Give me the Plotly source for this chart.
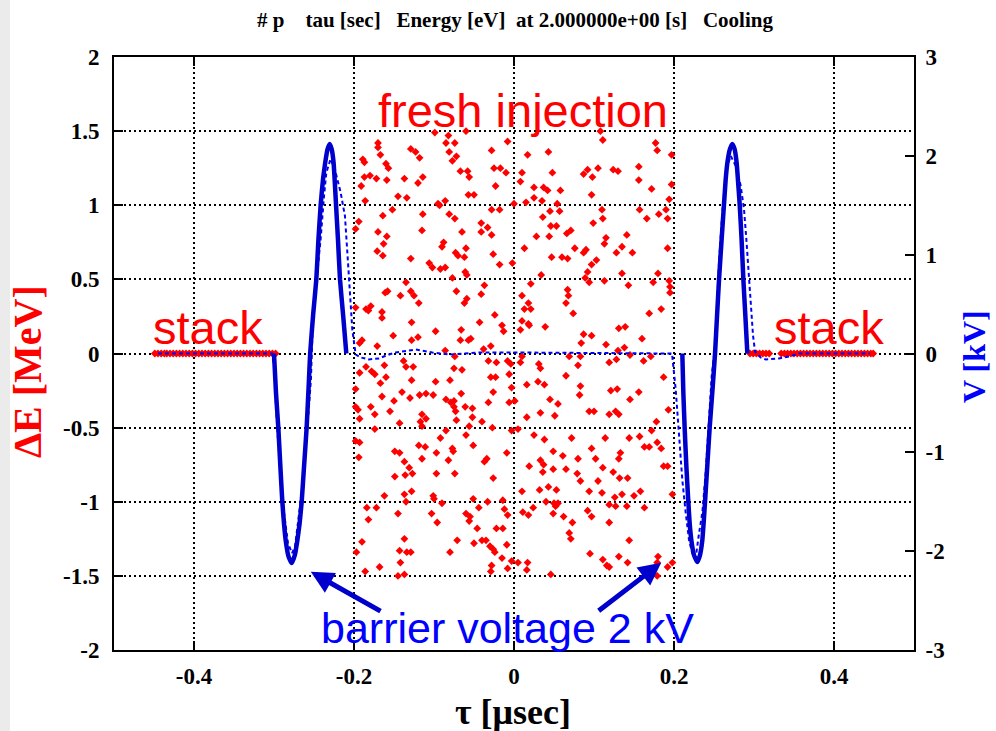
import plotly.graph_objects as go

# ---- fresh injection particles: tau [usec], dE [MeV] ----
inj_tau = [
    -0.099, -0.082, -0.060, -0.170, -0.170, -0.129, -0.123, -0.085, -0.074, -0.167,
    -0.118, -0.081, -0.072, -0.077, -0.028, -0.008, -0.189, -0.187, -0.160, -0.157,
    -0.067, -0.058, -0.056, -0.025, -0.017, -0.010, -0.187, -0.180, -0.172, -0.159,
    -0.137, -0.120, -0.114, -0.191, -0.023, -0.145, -0.134, -0.186, -0.057, -0.050,
    -0.095, -0.093, -0.086, -0.152, -0.164, -0.114, -0.081, -0.074, -0.028, -0.018,
    -0.194, -0.198, -0.170, -0.159, -0.115, -0.065, -0.041, -0.033, -0.041, -0.028,
    -0.163, -0.171, -0.164, -0.088, -0.090, -0.073, -0.070, -0.060, -0.062, -0.129,
    -0.106, -0.102, -0.092, -0.086, -0.026, -0.018, -0.061, -0.059, -0.077, -0.135,
    -0.158, -0.161, -0.129, -0.125, -0.142, -0.119, -0.072, -0.059, -0.062, -0.037,
    -0.041, -0.198, -0.185, -0.179, -0.182, -0.165, -0.165, -0.024, -0.128, -0.098,
    -0.066, -0.043, -0.015, -0.013, -0.190, -0.193, -0.151, -0.128, -0.120, -0.054,
    -0.057, -0.067, -0.029, -0.038, -0.171, -0.086, -0.074,
    0.108, 0.111, 0.017, 0.043, 0.177, 0.179, 0.197, 0.010, 0.008, 0.048,
    0.087, 0.092, 0.098, 0.105, 0.124, 0.130, 0.156, 0.156, 0.172, 0.197,
    0.025, 0.037, 0.042, 0.058, 0.097, 0.025, 0.015, 0.035, 0.000, 0.054,
    0.045, 0.057, 0.110, 0.157, 0.190, 0.181, 0.192, 0.166, 0.036, 0.111,
    0.099, 0.046, 0.053, 0.066, 0.071, 0.028, 0.044, 0.115, 0.141, 0.113,
    0.135, 0.013, 0.076, 0.090, 0.087, 0.128, 0.148, 0.192, 0.047, 0.060,
    0.067, 0.103, 0.097, -0.002, 0.034, 0.092, 0.089, 0.094, 0.113, 0.135,
    0.180, 0.021, 0.067, 0.068, 0.065, 0.010, 0.018, 0.013, 0.021, 0.074,
    0.143, 0.174, 0.194, 0.195, 0.195, 0.169, 0.184, 0.010, 0.018, 0.019,
    0.008, 0.039, 0.131, 0.139, 0.087, 0.097, 0.084, 0.115, 0.138, 0.130,
    0.160, 0.069, 0.083, 0.010, 0.194,
    -0.162, -0.185, -0.138, -0.135, -0.126, -0.075, -0.065, -0.032, -0.022, -0.008,
    -0.004, -0.193, -0.178, -0.174, -0.160, -0.128, -0.098, -0.080, -0.023, -0.006,
    -0.029, -0.167, -0.198, -0.140, -0.165, -0.130, -0.118, -0.110, -0.101, -0.066,
    -0.026, -0.085, -0.079, -0.075, -0.150, -0.179, -0.174, -0.155, -0.198, -0.195,
    -0.193, -0.075, -0.073, -0.061, -0.052, -0.032, -0.006, -0.115, -0.110, -0.117,
    -0.115, -0.143, -0.072, -0.052, -0.040, -0.056, -0.174, -0.085, -0.027, -0.092,
    -0.060, -0.198, -0.193, -0.119, -0.111, -0.077, -0.076, -0.051, -0.097, -0.009,
    -0.194, -0.149, -0.143, -0.115, -0.082, -0.034, -0.037, -0.137, -0.131, -0.149,
    -0.136, -0.127, -0.097, -0.074, -0.026, -0.162, -0.137, -0.128, -0.101, -0.100,
    -0.090, -0.051, -0.033, -0.014, -0.184, -0.172, -0.135, -0.182, -0.145, -0.103,
    -0.096, -0.060, -0.055, -0.056, -0.044, -0.012, -0.008, -0.046, -0.022, -0.014,
    -0.190, -0.197, -0.137, -0.143, -0.134, -0.129, -0.080, -0.071, -0.050, -0.040,
    -0.035, -0.030, -0.026, -0.024, -0.009, -0.015, -0.142, -0.168, -0.186, -0.137,
    -0.145, -0.028, -0.029, -0.008,
    0.145, 0.162, 0.171, 0.008, 0.031, 0.033, 0.080, 0.119, 0.128, 0.187,
    0.065, 0.030, 0.038, 0.016, -0.003, 0.083, 0.082, 0.121, 0.129, 0.156,
    0.045, 0.055, 0.145, 0.001, 0.033, 0.016, 0.051, 0.094, 0.100, 0.119,
    0.127, 0.131, 0.193, 0.178, 0.172, -0.003, 0.005, 0.025, 0.038, 0.072,
    0.114, 0.144, 0.157, 0.179, 0.163, 0.169, 0.184, 0.049, 0.061, 0.097,
    0.102, 0.080, 0.133, 0.131, 0.019, 0.033, 0.037, 0.036, 0.049, 0.065,
    0.079, 0.111, 0.124, 0.132, 0.142, 0.083, 0.105, 0.043, 0.053, 0.032,
    0.010, 0.094, 0.110, 0.126, 0.135, 0.150, 0.158, 0.198, 0.040, 0.050,
    0.055, 0.052, 0.119, 0.127, 0.141, 0.163, 0.011, 0.018, 0.024, 0.049,
    0.062, 0.092, 0.097, 0.073, 0.119, 0.069, 0.071, 0.144, 0.095, 0.111,
    0.116, 0.119, 0.131, 0.142, 0.180, 0.179, 0.192, 0.198, -0.003, 0.005,
    0.017, 0.016, 0.046, 0.179, 0.187, 0.192,
]
inj_de = [
    1.49, 1.47, 1.50, 1.42, 1.39, 1.38, 1.36, 1.42, 1.42, 1.34,
    1.32, 1.36, 1.33, 1.30, 1.37, 1.43, 1.31, 1.29, 1.28, 1.25,
    1.23, 1.23, 1.19, 1.25, 1.25, 1.22, 1.19, 1.20, 1.18, 1.17,
    1.18, 1.15, 1.19, 1.13, 1.13, 1.06, 1.05, 1.03, 1.07, 1.07,
    1.01, 1.00, 1.03, 0.97, 0.93, 0.94, 0.94, 0.91, 0.97, 0.97,
    0.89, 0.84, 0.82, 0.79, 0.83, 0.82, 0.88, 0.85, 0.82, 0.80,
    0.74, 0.69, 0.66, 0.75, 0.72, 0.68, 0.66, 0.71, 0.65, 0.64,
    0.61, 0.58, 0.57, 0.58, 0.67, 0.60, 0.55, 0.53, 0.51, 0.48,
    0.42, 0.41, 0.42, 0.39, 0.39, 0.34, 0.42, 0.37, 0.34, 0.46,
    0.40, 0.31, 0.30, 0.32, 0.29, 0.28, 0.24, 0.26, 0.21, 0.15,
    0.16, 0.21, 0.19, 0.15, 0.09, 0.07, 0.12, 0.09, 0.11, 0.10,
    0.09, 0.09, 0.05, 0.03, 0.05, 0.02, -0.02,
    1.50, 1.44, 1.34, 1.36, 1.42, 1.37, 1.34, 1.22, 1.16, 1.22,
    1.21, 1.24, 1.19, 1.25, 1.24, 1.23, 1.26, 1.17, 1.11, 1.14,
    1.12, 1.12, 1.10, 1.10, 1.07, 1.05, 1.02, 1.03, 1.01, 1.01,
    0.96, 0.96, 0.97, 0.97, 0.97, 0.94, 0.91, 0.91, 0.92, 0.91,
    0.88, 0.86, 0.86, 0.81, 0.83, 0.79, 0.79, 0.78, 0.80, 0.74,
    0.72, 0.71, 0.71, 0.70, 0.68, 0.68, 0.68, 0.71, 0.65, 0.65,
    0.64, 0.63, 0.60, 0.61, 0.53, 0.55, 0.51, 0.48, 0.49, 0.54,
    0.54, 0.47, 0.43, 0.39, 0.34, 0.39, 0.34, 0.30, 0.30, 0.27,
    0.46, 0.48, 0.49, 0.45, 0.41, 0.27, 0.30, 0.22, 0.20, 0.19,
    0.16, 0.18, 0.17, 0.18, 0.13, 0.12, 0.07, 0.06, 0.04, 0.02,
    0.10, -0.02, -0.02, -0.02, 1.04,
    -0.08, -0.09, -0.05, -0.09, -0.09, -0.10, -0.11, -0.05, -0.06, -0.05,
    -0.07, -0.13, -0.12, -0.14, -0.16, -0.18, -0.19, -0.18, -0.16, -0.14,
    -0.16, -0.20, -0.24, -0.26, -0.29, -0.30, -0.28, -0.27, -0.28, -0.27,
    -0.26, -0.31, -0.33, -0.32, -0.32, -0.36, -0.41, -0.39, -0.36, -0.38,
    -0.44, -0.36, -0.39, -0.36, -0.37, -0.33, -0.33, -0.41, -0.44, -0.46,
    -0.49, -0.47, -0.45, -0.43, -0.46, -0.49, -0.51, -0.52, -0.50, -0.57,
    -0.55, -0.59, -0.60, -0.62, -0.63, -0.64, -0.66, -0.62, -0.67, -0.67,
    -0.70, -0.66, -0.67, -0.71, -0.72, -0.71, -0.73, -0.73, -0.77, -0.83,
    -0.82, -0.81, -0.81, -0.81, -0.84, -0.96, -0.95, -0.93, -0.96, -0.98,
    -1.01, -0.98, -1.00, -0.99, -1.04, -1.04, -1.00, -1.12, -1.08, -1.08,
    -1.14, -1.08, -1.10, -1.13, -1.04, -1.05, -1.09, -1.18, -1.18, -1.18,
    -1.27, -1.34, -1.25, -1.33, -1.34, -1.34, -1.34, -1.26, -1.28, -1.26,
    -1.26, -1.30, -1.32, -1.34, -1.29, -1.38, -1.41, -1.44, -1.47, -1.49,
    -1.50, -1.43, -1.47, -1.45,
    -0.01, -0.05, -0.02, -0.06, -0.07, -0.10, -0.08, -0.06, -0.04, -0.16,
    -0.15, -0.19, -0.21, -0.21, -0.23, -0.22, -0.28, -0.25, -0.24, -0.26,
    -0.31, -0.34, -0.31, -0.32, -0.40, -0.43, -0.42, -0.39, -0.39, -0.41,
    -0.39, -0.41, -0.38, -0.46, -0.52, -0.52, -0.51, -0.55, -0.58, -0.57,
    -0.57, -0.57, -0.56, -0.60, -0.63, -0.63, -0.64, -0.66, -0.69, -0.64,
    -0.71, -0.71, -0.67, -0.71, -0.76, -0.72, -0.75, -0.80, -0.78, -0.78,
    -0.81, -0.77, -0.80, -0.84, -0.84, -0.86, -0.86, -0.90, -0.92, -0.92,
    -0.93, -0.93, -0.94, -0.97, -0.95, -0.96, -0.93, -0.95, -1.00, -1.01,
    -1.01, -1.03, -1.02, -1.03, -1.03, -1.04, -1.07, -1.09, -1.04, -1.08,
    -1.10, -1.06, -1.10, -1.14, -1.14, -1.21, -1.25, -1.26, -1.35, -1.39,
    -1.43, -1.44, -1.37, -1.41, -1.37, -1.41, -1.44, -1.41, -1.40, -1.41,
    -1.41, -1.46, -1.49, -1.50, -0.76, -0.76,
]

# ---- stacked beam sitting on dE = 0 outside the barriers ----
stack_tau_left = [
    -0.449, -0.445, -0.441, -0.437, -0.434, -0.430, -0.426, -0.422, -0.418, -0.414,
    -0.410, -0.406, -0.402, -0.398, -0.394, -0.390, -0.386, -0.382, -0.378, -0.374,
    -0.370, -0.366, -0.362, -0.358, -0.354, -0.350, -0.346, -0.342, -0.338, -0.334,
    -0.330, -0.326, -0.322, -0.318, -0.314, -0.310, -0.306, -0.302, -0.298,
]
stack_de_left = [0.0] * len(stack_tau_left)
stack_tau_right = [
    0.295, 0.299, 0.303, 0.307, 0.311, 0.315, 0.319, 0.334, 0.338, 0.342,
    0.346, 0.350, 0.354, 0.358, 0.362, 0.366, 0.370, 0.374, 0.378, 0.382,
    0.386, 0.390, 0.394, 0.398, 0.402, 0.406, 0.410, 0.414, 0.418, 0.422,
    0.426, 0.430, 0.434, 0.438, 0.442, 0.446, 0.449,
]
stack_de_right = [0.0] * len(stack_tau_right)

# ---- barrier voltage [kV], solid: applied, dashed: filtered ----
volt_tau_left = [
    -0.3000, -0.2975, -0.2946, -0.2920, -0.2896, -0.2875, -0.2854, -0.2820, -0.2779, -0.2740,
    -0.2708, -0.2680, -0.2654, -0.2625, -0.2592, -0.2565, -0.2548, -0.2510, -0.2471, -0.2445,
    -0.2416, -0.2385, -0.2360, -0.2330, -0.2304, -0.2280, -0.2255, -0.2225, -0.2200, -0.2175,
    -0.2135, -0.2096,
]
volt_kv_left = [
    0.00, -0.40, -0.75, -1.15, -1.50, -1.72, -1.89, -2.05, -2.12, -2.04,
    -1.89, -1.72, -1.50, -1.15, -0.75, -0.30, 0.00, 0.40, 0.75, 1.15,
    1.51, 1.78, 1.93, 2.07, 2.12, 2.07, 1.93, 1.51, 1.15, 0.75,
    0.38, 0.00,
]
volt_tau_right = [
    0.2104, 0.2117, 0.2133, 0.2155, 0.2179, 0.2196, 0.2217, 0.2250, 0.2292, 0.2325,
    0.2354, 0.2370, 0.2388, 0.2415, 0.2446, 0.2480, 0.2513, 0.2538, 0.2563, 0.2595,
    0.2625, 0.2645, 0.2667, 0.2700, 0.2729, 0.2757, 0.2783, 0.2800, 0.2821, 0.2845,
    0.2867, 0.2892, 0.2917,
]
volt_kv_right = [
    0.00, -0.40, -0.75, -1.15, -1.50, -1.72, -1.89, -2.04, -2.11, -2.04,
    -1.89, -1.72, -1.50, -1.15, -0.75, -0.38, 0.00, 0.38, 0.75, 1.15,
    1.51, 1.75, 1.93, 2.07, 2.12, 2.07, 1.93, 1.75, 1.51, 1.15,
    0.75, 0.38, 0.00,
]

filt_tau = [
    -0.445, -0.3025, -0.2988, -0.2975, -0.2950, -0.2913, -0.2875, -0.2825, -0.2775, -0.2738,
    -0.2688, -0.2625, -0.2588, -0.2538, -0.2513, -0.2459, -0.2417, -0.2375, -0.2346, -0.2292,
    -0.2229, -0.2167, -0.2113, -0.2083, -0.2063, -0.2042, -0.2021, -0.1979, -0.1917, -0.1813,
    -0.1688, -0.1563, -0.1479, -0.1229, -0.1021, -0.0813, -0.0438, 0.0060, 0.1975, 0.2021,
    0.2054, 0.2083, 0.2104, 0.2146, 0.2188, 0.2229, 0.2279, 0.2313, 0.2354, 0.2396,
    0.2438, 0.2471, 0.2513, 0.2542, 0.2563, 0.2604, 0.2654, 0.2708, 0.2771, 0.2833,
    0.2875, 0.2904, 0.2929, 0.2958, 0.2988, 0.3013, 0.3083, 0.3146, 0.3313, 0.3438,
    0.3563, 0.445,
]
filt_kv = [
    0.00, 0.00, -0.19, -0.54, -0.87, -1.21, -1.61, -1.92, -2.02, -1.96,
    -1.65, -1.21, -0.80, -0.26, 0.37, 0.78, 1.16, 1.59, 1.83, 1.97,
    1.83, 1.63, 1.39, 1.02, 0.75, 0.48, 0.24, -0.01, -0.04, -0.06,
    -0.05, -0.01, 0.01, 0.04, 0.01, -0.01, 0.01, 0.01, 0.00, -0.36,
    -0.70, -1.04, -1.28, -1.61, -1.89, -2.02, -2.02, -1.82, -1.61, -1.21,
    -0.70, -0.23, 0.07, 0.58, 0.92, 1.43, 1.86, 2.00, 1.90, 1.70,
    1.46, 1.16, 0.85, 0.51, 0.18, 0.02, -0.04, -0.06, -0.05, -0.03,
    0.00, 0.00,
]

# ---- tick labels ----
x_ticks = [-0.4, -0.2, 0, 0.2, 0.4]
x_ticktext = ["-0.4", "-0.2", "0", "0.2", "0.4"]
y_ticks = [-2, -1.5, -1, -0.5, 0, 0.5, 1, 1.5, 2]
y_ticktext = ["-2", "-1.5", "-1", "-0.5", "0", "0.5", "1", "1.5", "2"]
y2_ticks = [-3, -2, -1, 0, 1, 2, 3]
y2_ticktext = ["-3", "-2", "-1", "0", "1", "2", "3"]

RED = "#ff0000"
BLUE = "#0000ff"
DARKBLUE = "#0000cc"
SERIF = "Liberation Serif, Times New Roman, serif"
SANS = "Liberation Sans, Arial, sans-serif"

fig = go.Figure()

fig.add_trace(go.Scatter(
    x=filt_tau, y=filt_kv, yaxis="y2", mode="lines",
    line=dict(color=BLUE, width=2, dash="4px,3px"),
    hoverinfo="skip", showlegend=False,
))
fig.add_trace(go.Scatter(
    x=inj_tau, y=inj_de, mode="markers",
    marker=dict(symbol="diamond", size=6, color=RED, line=dict(width=0)),
    showlegend=False,
))
fig.add_trace(go.Scatter(
    x=stack_tau_left + stack_tau_right, y=stack_de_left + stack_de_right, mode="markers",
    marker=dict(symbol="diamond", size=6, color=RED, line=dict(width=0)),
    showlegend=False,
))
fig.add_trace(go.Scatter(
    x=volt_tau_left + [None] + volt_tau_right,
    y=volt_kv_left + [None] + volt_kv_right,
    yaxis="y2", mode="lines",
    line=dict(color=DARKBLUE, width=4.5, shape="spline", smoothing=0.4),
    connectgaps=False, hoverinfo="skip", showlegend=False,
))

W, H = 996, 731
L, R, T, B = 114, 82, 57, 81
pw, ph = W - L - R, H - T - B


def px(xp):
    return (xp - L) / pw


def py(yp):
    return (H - B - yp) / ph


tickfont = dict(family=SERIF, size=23, color="black", weight="bold")
axis_common = dict(
    ticks="inside", ticklen=9, tickwidth=1.5, tickcolor="black",
    showline=True, linecolor="black", linewidth=2,
    zeroline=False, tickfont=tickfont,
)

fig.update_layout(
    width=W, height=H,
    margin=dict(l=L, r=R, t=T, b=B),
    paper_bgcolor="white", plot_bgcolor="white",
    xaxis=dict(
        range=[-0.5, 0.5], tickmode="array", tickvals=x_ticks, ticktext=x_ticktext,
        mirror="ticks", showgrid=True, gridcolor="black", gridwidth=1.5, griddash="2px,3px",
        ticklabelstandoff=4,
        **axis_common,
    ),
    yaxis=dict(
        range=[-2, 2], tickmode="array", tickvals=y_ticks, ticktext=y_ticktext,
        mirror=True, showgrid=True, gridcolor="black", gridwidth=1.5, griddash="2px,3px",
        ticklabelstandoff=8,
        **axis_common,
    ),
    yaxis2=dict(
        range=[-3, 3], tickmode="array", tickvals=y2_ticks, ticktext=y2_ticktext,
        overlaying="y", side="right", showgrid=False,
        ticklabelstandoff=5,
        **axis_common,
    ),
    shapes=[
        dict(type="rect", xref="paper", yref="paper",
             x0=px(0), x1=px(10), y0=py(H), y1=py(0),
             fillcolor="#ebebeb", line=dict(width=0), layer="below"),
    ],
)

nb = "\u00a0"
title_text = f"#{nb}p{nb*4}tau{nb}[sec]{nb*3}Energy{nb}[eV]{nb*2}at{nb}2.000000e+00{nb}[s]{nb*3}Cooling"

annotations = [
    dict(text=title_text, x=px(515), y=py(20), xref="paper", yref="paper",
         showarrow=False, xanchor="center", yanchor="middle",
         font=dict(family=SERIF, size=21, color="black", weight="bold")),
    dict(text="\u0394E [MeV]", x=px(27), y=py(372), xref="paper", yref="paper",
         showarrow=False, textangle=-90, xanchor="center", yanchor="middle",
         font=dict(family=SERIF, size=40, color=RED, weight="bold")),
    dict(text="V [kV]", x=px(974), y=py(357), xref="paper", yref="paper",
         showarrow=False, textangle=-90, xanchor="center", yanchor="middle",
         font=dict(family=SERIF, size=32, color=BLUE, weight="bold")),
    dict(text="\u03c4 [\u03bcsec]", x=px(513), y=py(712), xref="paper", yref="paper",
         showarrow=False, xanchor="center", yanchor="middle",
         font=dict(family=SERIF, size=36, color="black", weight="bold")),
    dict(text="fresh injection", x=px(523), y=py(110), xref="paper", yref="paper",
         showarrow=False, xanchor="center", yanchor="middle",
         font=dict(family=SANS, size=47, color=RED)),
    dict(text="stack", x=px(208), y=py(327), xref="paper", yref="paper",
         showarrow=False, xanchor="center", yanchor="middle",
         font=dict(family=SANS, size=47, color=RED)),
    dict(text="stack", x=px(829), y=py(327), xref="paper", yref="paper",
         showarrow=False, xanchor="center", yanchor="middle",
         font=dict(family=SANS, size=47, color=RED)),
    dict(text="barrier voltage 2 kV", x=px(507), y=py(628), xref="paper", yref="paper",
         showarrow=False, xanchor="center", yanchor="middle",
         font=dict(family=SANS, size=43, color=BLUE)),
    # arrows pointing at the two voltage troughs
    dict(text="", x=-0.254, y=-1.473, xref="x", yref="y",
         ax=-0.165, ay=-1.743, axref="x", ayref="y",
         showarrow=True, arrowhead=2, arrowsize=0.9, arrowwidth=5, arrowcolor=DARKBLUE),
    dict(text="", x=0.184, y=-1.412, xref="x", yref="y",
         ax=0.104, ay=-1.743, axref="x", ayref="y",
         showarrow=True, arrowhead=2, arrowsize=0.9, arrowwidth=5, arrowcolor=DARKBLUE),
]
fig.update_layout(annotations=annotations)

fig.write_html("out.html")
